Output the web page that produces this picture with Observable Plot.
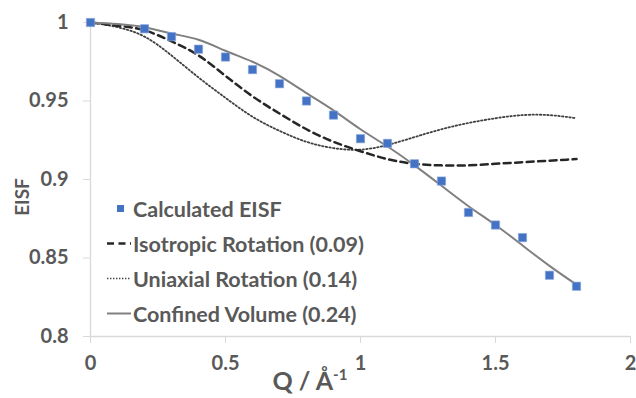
<!DOCTYPE html>
<html>
<head>
<meta charset="utf-8">
<script src="https://cdn.jsdelivr.net/npm/d3@7"></script>
<script src="https://cdn.jsdelivr.net/npm/@observablehq/plot@0.6"></script>
<style>
  html, body { margin: 0; padding: 0; background: #fff; }
  #wrap { position: relative; width: 636px; height: 398px; font-family: Lato, "Open Sans", sans-serif; color: #595959; font-weight: 700; }
  #legend { position: absolute; left: 105px; top: 191px; }
  .row { display: flex; align-items: center; height: 35px; font-size: 21.5px; }
  .row svg { width: 28px; height: 35px; flex: none; }
  #xtitle { position: absolute; left: 0; width: 636px; top: 365px; text-align: center; font-size: 25px; }
  #xtitle span { position: relative; left: -8px; }
  #xtitle sup { font-size: 15px; vertical-align: 10px; }
  #ytitle { position: absolute; left: 21px; top: 197px; font-size: 19px; transform: translate(-50%, -50%) rotate(-90deg); }
</style>
</head>
<body>
<div id="wrap"></div>
<script>
// Model curves (sampled every 0.1 Å⁻¹)
const qModel = [0, 0.1, 0.2, 0.3, 0.4, 0.5, 0.6, 0.7, 0.8, 0.9, 1.0, 1.1, 1.2, 1.3, 1.4, 1.5, 1.6, 1.7, 1.8];
const isotropic = [1.000, 0.998, 0.995, 0.988, 0.979, 0.966, 0.953, 0.942, 0.932, 0.924, 0.918, 0.913, 0.910, 0.909, 0.909, 0.910, 0.911, 0.912, 0.913];
const uniaxial  = [1.000, 0.997, 0.991, 0.979, 0.965, 0.952, 0.940, 0.931, 0.924, 0.920, 0.919, 0.922, 0.927, 0.932, 0.936, 0.939, 0.941, 0.941, 0.939];
const confined  = [1.000, 0.999, 0.997, 0.993, 0.989, 0.982, 0.975, 0.966, 0.955, 0.944, 0.932, 0.921, 0.909, 0.896, 0.883, 0.871, 0.858, 0.845, 0.833];

// Calculated EISF points
const qCalc = [0, 0.2, 0.3, 0.4, 0.5, 0.6, 0.7, 0.8, 0.9, 1.0, 1.1, 1.2, 1.3, 1.4, 1.5, 1.6, 1.7, 1.8];
const eisfCalc = [1.000, 0.996, 0.991, 0.983, 0.978, 0.970, 0.961, 0.950, 0.941, 0.926, 0.923, 0.910, 0.899, 0.879, 0.871, 0.863, 0.839, 0.832];

const xTicks = [0, 0.5, 1, 1.5, 2];
const xTickLabels = ["0", "0.5", "1", "1.5", "2"];
const yTicks = [0.8, 0.85, 0.9, 0.95, 1];
const yTickLabels = ["0.8", "0.85", "0.9", "0.95", "1"];

const seriesNames = ["Calculated EISF", "Isotropic Rotation (0.09)", "Uniaxial Rotation (0.14)", "Confined Volume (0.24)"];

const modelRows = (vals) => qModel.map((q, i) => ({q, v: vals[i]}));
const calcRows = qCalc.map((q, i) => ({q, v: eisfCalc[i]}));

const chart = Plot.plot({
  width: 636,
  height: 398,
  marginLeft: 90,
  marginRight: 6,
  marginTop: 22,
  marginBottom: 62,
  style: {fontFamily: "Lato, 'Open Sans', sans-serif", fontSize: "20px", fontWeight: 700, color: "#595959", background: "#fff"},
  x: {domain: [0, 2]},
  y: {domain: [0.8, 1]},
  marks: [
    Plot.ruleX([0], {stroke: "#d9d9d9", strokeWidth: 1.3}),
    Plot.ruleY([0.8], {stroke: "#d9d9d9", strokeWidth: 1.3}),
    Plot.axisX({ticks: xTicks, tickFormat: (d) => xTickLabels[xTicks.indexOf(d)], tickSize: 7, tickPadding: 12, stroke: "#d9d9d9", fill: "#595959", label: null}),
    Plot.axisY({ticks: yTicks, tickFormat: (d) => yTickLabels[yTicks.indexOf(d)], tickSize: 7, tickPadding: 15, stroke: "#d9d9d9", fill: "#595959", label: null}),
    Plot.line(modelRows(uniaxial), {x: "q", y: "v", curve: "natural", stroke: "#404040", strokeWidth: 1.8, strokeDasharray: "1.5,2.2"}),
    Plot.line(modelRows(isotropic), {x: "q", y: "v", curve: "natural", stroke: "#262626", strokeWidth: 2.5, strokeDasharray: "7,4.5"}),
    Plot.line(modelRows(confined), {x: "q", y: "v", curve: "natural", stroke: "#808080", strokeWidth: 2}),
    Plot.dot(calcRows, {x: "q", y: "v", symbol: "square", r: 4.7, fill: "#4472C4", stroke: "#8faadc", strokeWidth: 0.6})
  ]
});

const wrap = document.getElementById("wrap");
wrap.appendChild(chart);

// Legend (inside plot area)
const swatches = [
  `<rect x="12" y="14" width="7" height="7" fill="#4472C4"/>`,
  `<line x1="2" x2="26" y1="17.5" y2="17.5" stroke="#262626" stroke-width="2.5" stroke-dasharray="7,4.5"/>`,
  `<line x1="2" x2="25" y1="17.5" y2="17.5" stroke="#404040" stroke-width="1.5" stroke-dasharray="1.4,1.6"/>`,
  `<line x1="2" x2="26" y1="17.5" y2="17.5" stroke="#808080" stroke-width="2"/>`
];
const legend = document.createElement("div");
legend.id = "legend";
legend.innerHTML = seriesNames.map((n, i) =>
  `<div class="row"><svg viewBox="0 0 28 35">${swatches[i]}</svg><span>${n}</span></div>`).join("");
wrap.appendChild(legend);

const xt = document.createElement("div");
xt.id = "xtitle";
xt.innerHTML = `<span>Q / Å<sup>-1</sup></span>`;
wrap.appendChild(xt);

const yt = document.createElement("div");
yt.id = "ytitle";
yt.textContent = "EISF";
wrap.appendChild(yt);
</script>
</body>
</html>
